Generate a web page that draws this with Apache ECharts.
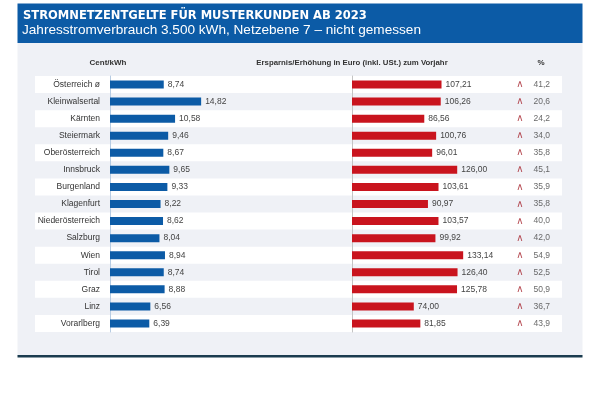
<!DOCTYPE html>
<html><head><meta charset="utf-8">
<script src="https://cdn.jsdelivr.net/npm/echarts@6/dist/echarts.min.js"></script>
<style>html,body{margin:0;padding:0;background:#fff}#c{width:600px;height:399px}</style>
</head><body><div id="c"></div>
<script>
const categories = ['Österreich ø','Kleinwalsertal','Kärnten','Steiermark','Oberösterreich','Innsbruck','Burgenland','Klagenfurt','Niederösterreich','Salzburg','Wien','Tirol','Graz','Linz','Vorarlberg'];
const centPerKwh = [8.74,14.82,10.58,9.46,8.67,9.65,9.33,8.22,8.62,8.04,8.94,8.74,8.88,6.56,6.39];
const euroChange = [107.21,106.26,86.56,100.76,96.01,126.00,103.61,90.97,103.57,99.92,133.14,126.40,125.78,74.00,81.85];
const pctChange = [41.2,20.6,24.2,34.0,35.8,45.1,35.9,35.8,40.0,42.0,54.9,52.5,50.9,36.7,43.9];

const fmt = (v, d) => v.toFixed(d).replace('.', ',');
const FONT = '"Liberation Sans", Arial, sans-serif';
const NARROW = '"DejaVu Sans Condensed", "Liberation Sans", sans-serif';
const chart = echarts.init(document.getElementById('c'), null, {renderer: 'canvas'});
const TOP = 76, H = 256;
chart.setOption({
  animation: false,
  backgroundColor: '#ffffff',
  graphic: [
    {type: 'rect', z: -10, shape: {x: 17.5, y: 43, width: 565, height: 313}, style: {fill: '#eff1f6'}},
    {type: 'rect', z: -9, shape: {x: 17.5, y: 355, width: 565, height: 2.5}, style: {fill: '#1b3c4f'}},
    {type: 'rect', z: -9, shape: {x: 17.5, y: 3.5, width: 565, height: 39.5}, style: {fill: '#0c5ba6'}},
    {type: 'text', z: 10, x: 23, y: 9.5, style: {text: 'STROMNETZENTGELTE FÜR MUSTERKUNDEN AB 2023', fill: '#ffffff', font: 'bold 12.8px ' + NARROW}},
    {type: 'text', z: 10, x: 22, y: 23, style: {text: 'Jahresstromverbrauch 3.500 kWh, Netzebene 7 – nicht gemessen', fill: '#ffffff', font: '13.6px ' + FONT}},
    {type: 'text', z: 10, x: 108, y: 63, style: {text: 'Cent/kWh', fill: '#333', font: 'bold 8px ' + FONT, align: 'center', verticalAlign: 'middle'}},
    {type: 'text', z: 10, x: 352, y: 63, style: {text: 'Ersparnis/Erhöhung in Euro (inkl. USt.) zum Vorjahr', fill: '#333', font: 'bold 7.8px ' + FONT, align: 'center', verticalAlign: 'middle'}},
    {type: 'text', z: 10, x: 541, y: 63, style: {text: '%', fill: '#333', font: 'bold 8px ' + FONT, align: 'center', verticalAlign: 'middle'}}
  ],
  grid: [
    {left: 35, width: 527, top: TOP, height: H},
    {left: 110, width: 123, top: TOP, height: H},
    {left: 352, width: 167, top: TOP, height: H},
    {left: 520, width: 13, top: TOP, height: H}
  ],
  xAxis: [
    {gridIndex: 0, type: 'value', show: false, min: 0, max: 1},
    {gridIndex: 1, type: 'value', show: false, min: 0, max: 20},
    {gridIndex: 2, type: 'value', show: false, min: 0, max: 200},
    {gridIndex: 3, type: 'value', show: false, min: 0, max: 1}
  ],
  yAxis: [
    {gridIndex: 0, type: 'category', data: categories, inverse: true, axisLine: {show: false}, axisTick: {show: false}, axisLabel: {show: false},
      splitArea: {show: true, areaStyle: {color: ['#ffffff', 'rgba(0,0,0,0)']}}},
    {gridIndex: 1, type: 'category', data: categories, inverse: true, axisLine: {show: true, lineStyle: {color: '#b7cce3', width: 1}}, axisTick: {show: false},
      axisLabel: {color: '#333', fontSize: 8.5, fontFamily: FONT, margin: 10}},
    {gridIndex: 2, type: 'category', data: categories, inverse: true, axisLine: {show: true, lineStyle: {color: '#c4c4c4', width: 1}}, axisTick: {show: false}, axisLabel: {show: false}},
    {gridIndex: 3, type: 'category', data: categories, inverse: true, show: false}
  ],
  series: [
    {type: 'bar', xAxisIndex: 1, yAxisIndex: 1, data: centPerKwh, barWidth: 8, itemStyle: {color: '#0c5ba6'},
      label: {show: true, position: 'right', distance: 4, color: '#444', fontSize: 8.5, fontFamily: FONT, formatter: p => fmt(p.value, 2)}},
    {type: 'bar', xAxisIndex: 2, yAxisIndex: 2, data: euroChange, barWidth: 8, itemStyle: {color: '#c9141e'},
      label: {show: true, position: 'right', distance: 4, color: '#444', fontSize: 8.5, fontFamily: FONT, formatter: p => fmt(p.value, 2)}},
    {type: 'scatter', xAxisIndex: 3, yAxisIndex: 3, data: pctChange.map(() => 0), symbolSize: 1, itemStyle: {color: 'rgba(0,0,0,0)'},
      label: {show: true, position: 'inside', color: '#a5202a', fontSize: 10, fontFamily: '"DejaVu Sans", sans-serif', formatter: '∧'}},
    {type: 'scatter', xAxisIndex: 3, yAxisIndex: 3, data: pctChange.map((v, i) => [1, i]), symbolSize: 1, itemStyle: {color: 'rgba(0,0,0,0)'},
      label: {show: true, position: 'right', distance: 0, color: '#444', fontSize: 8.5, fontFamily: FONT, formatter: p => fmt(pctChange[p.dataIndex], 1)}}
  ]
});
</script></body></html>
